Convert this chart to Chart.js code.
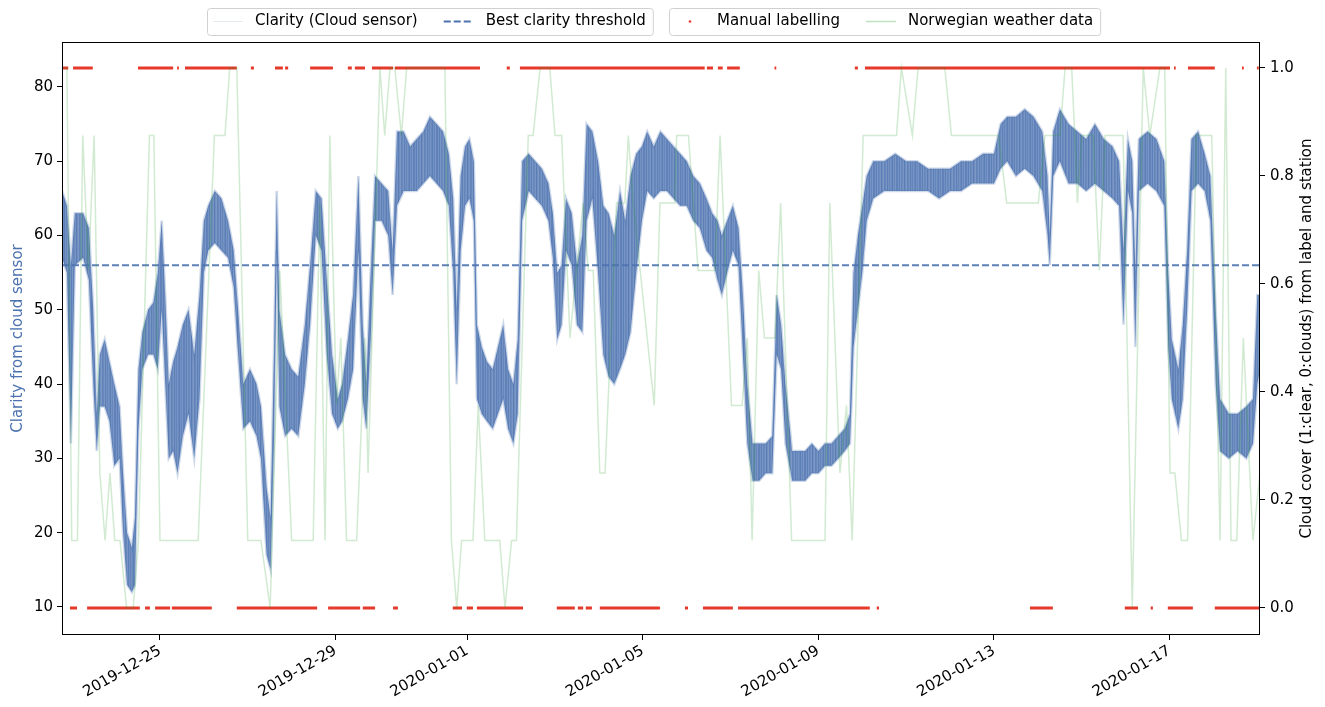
<!DOCTYPE html>
<html>
<head>
<meta charset="utf-8">
<script src="https://cdn.jsdelivr.net/npm/chart.js@4.4.1/dist/chart.umd.min.js"></script>
<style>
body{margin:0;background:#fff;}
canvas{display:block;}
</style>
</head>
<body>
<canvas id="chart" width="1325" height="707"></canvas>
<script>

// days are counted from 2019-12-25 00:00 UTC
const dayZero = Date.UTC(2019, 11, 25);
const xMin = -2.232;
const xMax = 25.06;
const tickDays = [0, 4, 7, 11, 15, 19, 23];
const clarityTicks = [10, 20, 30, 40, 50, 60, 70, 80];
const coverTicks = [0, 0.2, 0.4, 0.6, 0.8, 1.0];

/* cloud sensor clarity: lower and upper edge of the noisy trace */
const clarityDay = [
-2.23,-2.12,-2.03,-1.94,-1.75,-1.62,-1.52,-1.44,-1.37,-1.26,-1.15,-1.04,-0.92,-0.84,-0.75,-0.64,-0.57,-0.49,-0.40,-0.27,
-0.15,-0.05,0.04,0.12,0.20,0.30,0.40,0.52,0.65,0.78,0.90,1.00,1.10,1.25,1.40,1.55,1.68,1.78,1.90,2.05,
2.20,2.30,2.43,2.52,2.60,2.66,2.72,2.85,3.00,3.15,3.30,3.42,3.55,3.68,3.80,3.92,4.05,4.15,4.28,4.40,
4.52,4.62,4.70,4.80,4.90,5.05,5.20,5.30,5.40,5.55,5.70,5.85,6.00,6.15,6.30,6.45,6.58,6.68,6.76,6.85,
6.95,7.05,7.15,7.22,7.33,7.45,7.58,7.70,7.82,7.93,8.05,8.15,8.25,8.40,8.55,8.70,8.85,8.95,9.05,9.15,
9.25,9.38,9.50,9.62,9.72,9.85,9.98,10.10,10.22,10.35,10.48,10.60,10.72,10.85,10.98,11.10,11.25,11.40,11.55,11.70,
11.85,12.00,12.15,12.30,12.45,12.58,12.70,12.80,12.92,13.05,13.18,13.28,13.38,13.50,13.65,13.80,13.95,14.05,14.15,14.25,
14.40,14.55,14.70,14.85,15.00,15.15,15.30,15.45,15.60,15.72,15.80,15.90,16.00,16.10,16.25,16.50,16.75,17.00,17.25,17.50,
17.75,18.00,18.25,18.50,18.75,19.00,19.15,19.30,19.50,19.70,19.90,20.10,20.22,20.27,20.35,20.50,20.70,20.90,21.10,21.30,
21.50,21.70,21.85,21.95,22.05,22.15,22.22,22.30,22.50,22.70,22.88,22.97,23.05,23.20,23.30,23.40,23.50,23.65,23.80,23.93,
24.05,24.15,24.35,24.55,24.75,24.90,25.00,25.06
];
const clarityLow = [
57,55,32,56,57,54,40,31,37,37,35,29,30,20,13,12,13,34,42,44,
44,42,50,40,30,31,28,33,36,30,38,55,58,59,58,57,53,44,34,35,
33,30,17,15,33,58,37,33,34,33,40,48,60,58,44,36,34,35,38,42,
58,38,34,46,62,62,60,52,64,66,66,66,67,68,67,66,64,55,40,58,
64,65,62,38,36,35,34,36,38,34,32,36,62,66,65,64,62,57,46,48,
58,56,48,47,62,65,55,44,41,40,42,44,47,55,62,66,65,66,66,65,
64,64,62,61,58,57,54,52,55,58,56,44,32,27,27,28,28,44,42,32,
27,27,27,28,28,29,29,30,31,32,45,50,55,62,65,66,66,66,66,66,
65,66,66,67,67,67,69,70,68,69,68,66,60,56,68,70,67,67,66,67,
66,65,64,48,66,63,45,66,67,66,64,45,38,34,38,50,66,67,66,62,
40,31,30,31,30,32,40,42
];
const clarityHigh = [
66,64,56,63,63,61,50,36,44,46,43,40,37,28,20,18,22,42,47,50,
51,55,62,52,40,43,45,48,50,44,52,62,64,66,65,62,58,50,40,42,
40,37,26,22,45,66,50,44,42,41,48,56,66,65,54,44,38,40,46,52,
68,48,40,55,68,67,66,58,74,74,72,73,74,76,75,74,71,65,50,68,
72,73,70,48,45,43,42,45,48,42,40,46,70,71,70,69,67,63,55,56,
65,63,56,60,75,74,70,64,63,60,66,62,68,71,72,74,72,74,73,72,
71,70,68,67,65,63,62,60,62,64,61,52,40,32,32,32,33,52,48,40,
31,31,31,32,31,32,32,33,34,36,55,60,64,68,70,70,71,70,70,69,
69,69,70,70,71,71,75,76,76,77,76,74,68,60,74,77,75,74,73,75,
73,72,70,58,73,70,55,73,74,73,70,55,46,42,48,58,73,74,71,68,
50,38,36,36,37,38,52,52
];
const bestThreshold = 56;

/* Norwegian weather station cloud cover (in eighths) */
const weatherDay = [
-2.23,-2.12,-2.01,-1.88,-1.76,-1.63,-1.50,-1.37,-1.25,-1.14,-1.03,-0.91,-0.76,-0.61,-0.49,-0.24,-0.14,0.00,0.87,1.24,
1.48,1.59,1.75,2.00,2.30,2.51,2.73,3.00,3.49,3.64,3.76,3.87,4.02,4.12,4.25,4.48,4.67,4.74,5.01,5.12,
5.24,5.35,5.50,5.62,6.49,6.64,6.76,6.87,7.13,7.25,7.40,7.74,7.86,8.01,8.12,8.39,8.50,8.66,8.88,9.00,
9.15,9.34,9.64,9.76,9.87,10.02,10.14,10.40,10.59,10.67,10.78,11.26,11.39,11.73,11.77,12.04,12.26,12.64,12.76,13.02,
13.26,13.38,13.49,13.64,13.77,14.01,14.14,14.39,15.15,15.26,15.49,15.64,15.77,16.02,16.78,16.89,17.14,17.27,17.88,18.03,
19.10,19.29,20.01,20.16,20.50,20.62,20.77,20.84,20.90,21.00,21.26,21.40,21.53,21.94,22.15,22.40,22.55,22.78,22.89,23.01,
23.12,23.27,23.41,23.61,23.96,24.15,24.28,24.40,24.53,24.68,24.90,25.06
];
const weatherCover = [
1,1,0.125,0.125,0.875,0.625,0.875,0.25,0.125,0.25,0.125,0.125,0,0,0.125,0.875,0.875,0.125,0.125,0.875,
0.875,1,1,0.125,0.125,0,0.625,0.125,0.125,0.75,0.125,0.875,0.375,0.5,0.125,0.125,0.5,0.25,1,0.875,
1,1,0.875,1,1,0.125,0,0.125,0.125,0.375,0.125,0.125,0,0.125,0.125,0.875,0.875,1,1,0.875,
0.875,0.5,0.75,0.625,0.625,0.25,0.25,0.75,0.75,0.875,0.75,0.375,0.75,0.75,0.875,0.875,0.625,0.625,0.875,0.375,
0.375,0.5,0.125,0.625,0.5,0.5,0.75,0.125,0.125,0.75,0.25,0.375,0.125,0.875,0.875,1,0.875,1,1,0.875,
0.875,0.75,0.75,0.875,0.875,1,1,0.875,0.75,0.875,0.875,0.625,0.875,0.875,0,1,0.875,1,1,0.25,
0.25,0.125,0.125,0.875,0.875,0.125,1,0.125,0.125,0.5,0.125,0.25
];

/* manual labels: stretches marked clear (1) and cloudy (0) */
const clearFrom = [-2.23,-1.98,-0.50,0.39,0.57,2.07,2.62,2.85,3.42,4.28,4.44,4.83,5.35,7.90,8.20,12.46,12.71,12.92,14.00,15.83,16.06,23.10,23.42,24.65,24.99];
const clearTo   = [-2.09,-1.53,0.30,0.43,1.75,2.14,2.80,2.92,3.94,4.37,4.67,5.31,7.29,7.97,12.41,12.60,12.82,13.21,14.04,15.90,23.01,23.14,24.03,24.69,25.03];
const cloudFrom = [-2.05,-1.66,-0.34,-0.11,0.27,1.75,3.83,4.62,5.31,6.67,6.99,7.22,9.04,9.52,9.70,10.02,11.96,12.37,13.17,16.33,19.82,21.98,22.57,22.96,24.03];
const cloudTo   = [-1.89,-0.46,-0.23,0.23,1.18,3.58,4.56,4.90,5.42,6.88,7.13,8.27,9.45,9.64,9.84,11.39,12.03,13.05,16.17,16.38,20.34,22.28,22.62,23.53,25.06];

const BLUE = "#4c72b0";
const RED = "#e5392a";
const GREEN = "rgba(44,160,44,0.22)";
const FONT = "15px DejaVu Sans";
const rightTitle = "Cloud cover (1:clear, 0:clouds) from label and station";

Chart.defaults.font.family = "DejaVu Sans";
Chart.defaults.font.size = 15;
Chart.defaults.color = "#000";

function pairs(xs, ys){
  return xs.map((x, i) => ({x: x, y: ys[i]}));
}

function segments(from, to, level){
  let pts = [];
  for(let i = 0; i < from.length; i++){
    pts.push({x: from[i], y: level});
    pts.push({x: to[i], y: level});
    pts.push({x: to[i], y: null});
  }
  return pts;
}

function dayLabel(v){
  return new Date(dayZero + v * 864e5).toISOString().slice(0, 10);
}

// faint streaks so the clarity band reads like many thin overlapping traces
function streaks(){
  let alphas = [0.88,0.78,0.9,0.74,0.86,0.82,0.76,0.92,0.8,0.73,0.88,0.84,0.75,0.9,0.79,0.86,0.77,0.83,0.91,0.78,0.85,0.74,0.89];
  let c = document.createElement("canvas");
  c.width = alphas.length;
  c.height = 1;
  let g = c.getContext("2d");
  alphas.forEach((a, i) => {
    g.fillStyle = "rgba(76,114,176," + a + ")";
    g.fillRect(i, 0, 1, 1);
  });
  return g.createPattern(c, "repeat");
}

/* frame round the plot, right axis title and the two legend boxes */
const decorations = {
  id: "decorations",
  afterDraw(chart){
    let ctx = chart.ctx;
    let a = chart.chartArea;
    ctx.save();
    ctx.strokeStyle = "#000";
    ctx.lineWidth = 1;
    ctx.strokeRect(Math.round(a.left) + 0.5, Math.round(a.top) + 0.5,
      Math.round(a.right - a.left) - 1, Math.round(a.bottom - a.top) - 1);

    ctx.font = FONT;
    ctx.fillStyle = "#000";
    ctx.textAlign = "center";
    ctx.textBaseline = "middle";
    ctx.save();
    ctx.translate(1307, (a.top + a.bottom) / 2);
    ctx.rotate(-Math.PI / 2);
    ctx.fillText(rightTitle, 0, 0);
    ctx.restore();

    drawLegend(ctx, 207, [
      {label: "Clarity (Cloud sensor)", handle: (x, y) => line(ctx, x, y, "rgba(76,114,176,0.15)", 1, [])},
      {label: "Best clarity threshold", handle: (x, y) => line(ctx, x, y, BLUE, 2, [7, 3])}
    ]);
    drawLegend(ctx, 669, [
      {label: "Manual labelling", handle: (x, y) => {
        ctx.fillStyle = RED;
        ctx.beginPath(); ctx.arc(x + 15, y, 1.3, 0, Math.PI * 2); ctx.fill();
      }},
      {label: "Norwegian weather data", handle: (x, y) => line(ctx, x, y, "rgba(44,160,44,0.3)", 1.5, [])}
    ]);
    ctx.restore();
  }
};

function line(ctx, x, y, color, width, dash){
  ctx.save();
  ctx.strokeStyle = color;
  ctx.lineWidth = width;
  ctx.setLineDash(dash);
  ctx.beginPath();
  ctx.moveTo(x, y);
  ctx.lineTo(x + 30, y);
  ctx.stroke();
  ctx.restore();
}

function drawLegend(ctx, left, items){
  let top = 8, h = 27, mid = top + h / 2;
  let x = left + 6;
  let spots = [];
  ctx.textAlign = "left";
  items.forEach(it => {
    let tx = x + 30 + 12;
    spots.push({x: x, tx: tx});
    x = tx + ctx.measureText(it.label).width + 26;
  });
  let right = x - 26 + 7;
  ctx.save();
  ctx.fillStyle = "rgba(255,255,255,0.8)";
  ctx.strokeStyle = "#d0d0d0";
  ctx.lineWidth = 1;
  ctx.beginPath();
  ctx.roundRect(left + 0.5, top + 0.5, right - left, h, 3);
  ctx.fill();
  ctx.stroke();
  ctx.restore();
  items.forEach((it, i) => {
    it.handle(spots[i].x, mid);
    ctx.fillStyle = "#000";
    ctx.textAlign = "left";
    ctx.fillText(it.label, spots[i].tx, mid);
  });
}

new Chart(document.getElementById("chart"), {
  type: "line",
  data: {
    datasets: [
      {
        label: "Norwegian weather data",
        data: pairs(weatherDay, weatherCover),
        yAxisID: "y1",
        borderColor: GREEN,
        borderWidth: 1.5,
        pointRadius: 0,
        fill: false,
        order: 0
      },
      {
        label: "Manual labelling",
        data: segments(clearFrom, clearTo, 1),
        yAxisID: "y1",
        borderColor: RED,
        borderWidth: 3,
        pointRadius: 0,
        spanGaps: false,
        fill: false,
        order: 1
      },
      {
        label: "Manual labelling (cloudy)",
        data: segments(cloudFrom, cloudTo, 0),
        yAxisID: "y1",
        borderColor: RED,
        borderWidth: 3,
        pointRadius: 0,
        spanGaps: false,
        fill: false,
        order: 1
      },
      {
        label: "Best clarity threshold",
        data: [{x: xMin, y: bestThreshold}, {x: xMax, y: bestThreshold}],
        yAxisID: "y",
        borderColor: "rgba(76,114,176,0.9)",
        borderWidth: 2,
        borderDash: [7, 3],
        pointRadius: 0,
        fill: false,
        order: 2
      },
      {
        label: "Clarity low",
        data: pairs(clarityDay, clarityLow),
        yAxisID: "y",
        borderColor: "rgba(76,114,176,0.28)",
        borderWidth: 2.5,
        backgroundColor: streaks(),
        pointRadius: 0,
        fill: "+1",
        order: 3
      },
      {
        label: "Clarity high",
        data: pairs(clarityDay, clarityHigh),
        yAxisID: "y",
        borderColor: "rgba(76,114,176,0.28)",
        borderWidth: 2.5,
        pointRadius: 0,
        fill: false,
        order: 3
      }
    ]
  },
  options: {
    responsive: false,
    animation: false,
    devicePixelRatio: 1,
    layout: {padding: {top: 42, left: 0, right: 0, bottom: 0}},
    plugins: {legend: {display: false}, tooltip: {enabled: false}},
    elements: {line: {tension: 0}},
    scales: {
      x: {
        type: "linear",
        min: xMin,
        max: xMax,
        afterBuildTicks: s => { s.ticks = tickDays.map(v => ({value: v})); },
        afterFit: s => { s.height = 72; },
        grid: {drawOnChartArea: false, tickLength: 5, tickColor: "#000"},
        border: {display: false},
        ticks: {
          autoSkip: false,
          minRotation: 30,
          maxRotation: 30,
          padding: 2,
          callback: v => dayLabel(v)
        }
      },
      y: {
        position: "left",
        min: 6.23,
        max: 86.05,
        afterBuildTicks: s => { s.ticks = clarityTicks.map(v => ({value: v})); },
        afterFit: s => { s.width = 62; },
        grid: {drawOnChartArea: false, tickLength: 5, tickColor: "#000"},
        border: {display: false},
        ticks: {padding: 4},
        title: {display: true, text: "Clarity from cloud sensor", color: BLUE, padding: {top: 9, bottom: 0}}
      },
      y1: {
        position: "right",
        min: -0.05,
        max: 1.048,
        afterBuildTicks: s => { s.ticks = coverTicks.map(v => ({value: v})); },
        afterFit: s => { s.width = 65; },
        grid: {drawOnChartArea: false, tickLength: 5, tickColor: "#000"},
        border: {display: false},
        ticks: {padding: 5, callback: v => v.toFixed(1)}
      }
    }
  },
  plugins: [decorations]
});
</script>
</body>
</html>
